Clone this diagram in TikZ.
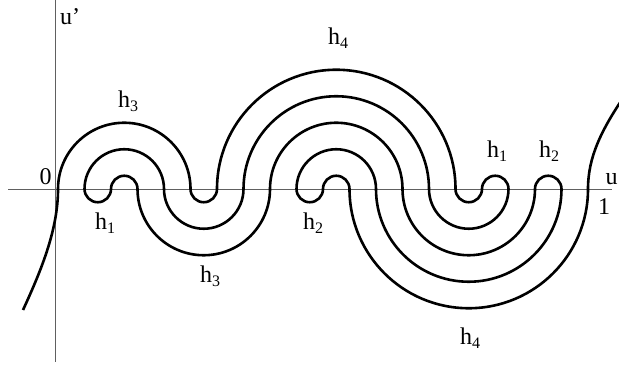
\documentclass[tikz,border=0pt]{standalone}
\usepackage{fontspec}
\setmainfont{Liberation Serif}
\usepackage{tikz}
\definecolor{axisgray}{HTML}{606060}
\newcommand{\hlab}[1]{h\raisebox{-4pt}{\fontsize{16}{16}\selectfont #1}}

\begin{document}
\begin{tikzpicture}[x=26.5pt,y=26.5pt,
  curve/.style={line width=2.6pt},
  axisline/.style={line width=0.9pt,axisgray},
  lab/.style={anchor=base west,inner sep=0pt,font=\fontsize{24}{28}\selectfont}]
\clip (-2.189,-6.755) rectangle (21.170,7.132);
% axes
\draw[axisline] (-1.887,0) -- (20.906,0);
\draw[axisline] (-0.113,7.2) -- (-0.113,-6.528);
% arcs above the axis
\foreach \c/\r in {2.5/0.5,2.5/1.5,2.5/2.5,10.5/0.5,10.5/1.5,10.5/2.5,10.5/3.5,10.5/4.5,16.5/0.5,18.5/0.5}
  \draw[curve] (\c-\r,0) arc[start angle=180,end angle=0,radius=\r];
% arcs below the axis
\foreach \c/\r in {1.5/0.5,5.5/0.5,5.5/1.5,5.5/2.5,9.5/0.5,15.5/0.5,15.5/1.5,15.5/2.5,15.5/3.5,15.5/4.5}
  \draw[curve] (\c-\r,0) arc[start angle=180,end angle=360,radius=\r];
% the two free ends
\draw[curve] (0,0) .. controls (0,-1.5) and (-0.6,-3) .. (-1.321,-4.566);
\draw[curve] (20,0) .. controls (20,1.2) and (20.5,2.2) .. (21.3,3.4);
% labels
\node[lab] (uprime) at (0.075,6.226) {u’};
\node[lab] (zero) at (-0.698,0.151) {0};
\node[lab] (one) at (20.377,-0.981) {1};
\node[lab] (u) at (20.66,0.151) {u};
\node[lab] (hthreetop) at (2.264,3.094) {\hlab{3}};
\node[lab] (honeleft) at (1.396,-1.547) {\hlab{1}};
\node[lab] (hthreelow) at (5.358,-3.547) {\hlab{3}};
\node[lab] (hfourtop) at (10.189,5.434) {\hlab{4}};
\node[lab] (htwomid) at (9.245,-1.547) {\hlab{2}};
\node[lab] (honeright) at (16.189,1.170) {\hlab{1}};
\node[lab] (htworight) at (18.151,1.170) {\hlab{2}};
\node[lab] (hfourlow) at (15.170,-5.887) {\hlab{4}};
\end{tikzpicture}
\end{document}
